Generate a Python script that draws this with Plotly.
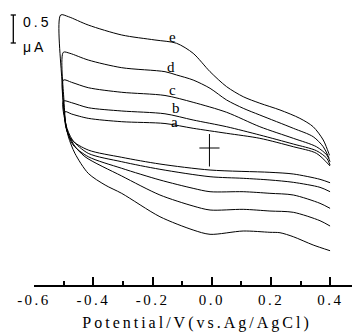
import plotly.graph_objects as go

# ---- data (potential in V vs Ag/AgCl, current in uA) ----
pot_a = [0.399, 0.365, 0.275, 0.196, -0.006, -0.175, -0.304, -0.417, -0.473, -0.492,
         -0.495, -0.473, -0.417, -0.304, -0.158, -0.063, 0.050, 0.162, 0.275, 0.353, 0.399]
cur_a = [-0.620, -0.559, -0.464, -0.434, -0.393, -0.286, -0.166, -0.036, 0.143, 0.357,
         0.648, 0.607, 0.530, 0.470, 0.4375, 0.352, 0.2625, 0.173, 0.023, -0.095, -0.321]

pot_b = [0.399, 0.365, 0.275, 0.196, 0.106, -0.006, -0.175, -0.304, -0.417, -0.470, -0.492,
         -0.501, -0.473, -0.417, -0.304, -0.158, -0.063, 0.050, 0.162, 0.275, 0.353, 0.388, 0.399]
cur_b = [-0.780, -0.702, -0.6125, -0.571, -0.541, -0.5125, -0.380, -0.245, -0.095, 0.143, 0.41,
         0.839, 0.809, 0.720, 0.661, 0.611, 0.500, 0.380, 0.232, 0.071, -0.048, -0.184, -0.304]

pot_c = [0.399, 0.365, 0.275, 0.196, 0.106, -0.006, -0.063, -0.175, -0.304, -0.417, -0.468, -0.489, -0.499,
         -0.501, -0.473, -0.417, -0.304, -0.158, -0.063, 0.050, 0.162, 0.275, 0.353, 0.388, 0.399]
cur_c = [-1.077, -0.9875, -0.839, -0.809, -0.780, -0.780, -0.720, -0.571, -0.3625, -0.155, 0.054, 0.32, 0.68,
         1.214, 1.173, 1.077, 0.995, 0.938, 0.816, 0.6375, 0.380, 0.173, 0.023, -0.125, -0.245]

pot_d = [0.399, 0.365, 0.275, 0.196, 0.106, -0.006, -0.063, -0.175, -0.304, -0.428, -0.465, -0.489, -0.499,
         -0.501, -0.479, -0.417, -0.304, -0.158, -0.119, -0.063, -0.006, 0.050, 0.106, 0.162, 0.275, 0.342,
         0.376, 0.396]
cur_d = [-1.393, -1.298, -1.148, -1.125, -1.095, -1.107, -1.036, -0.839, -0.500, -0.155, 0.054, 0.32, 0.857,
         1.709, 1.691, 1.571, 1.434, 1.363, 1.304, 1.214, 1.066, 0.857, 0.709, 0.589, 0.352, 0.202,
         0.023, -0.184]

pot_e = [0.399, 0.342, 0.275, 0.230, 0.196, 0.106, -0.006, -0.063, -0.175, -0.304, -0.360, -0.417, -0.462,
         -0.484, -0.495, -0.506,
         -0.510, -0.484, -0.417, -0.304, -0.192, -0.119, -0.063, -0.006, 0.050, 0.106, 0.162, 0.230, 0.297,
         0.342, 0.376, 0.393, 0.397]
cur_e = [-1.834, -1.732, -1.584, -1.5125, -1.505, -1.482, -1.541, -1.464, -1.227, -0.810, -0.661, -0.452, -0.095,
         0.202, 0.500, 1.214,
         2.375, 2.345, 2.196, 2.018, 1.929, 1.870, 1.691, 1.363, 1.095, 0.916, 0.800, 0.679, 0.530,
         0.380, 0.143, -0.071, -0.130]

curve_names = ["a", "b", "c", "d", "e"]
label_pot = [-0.126, -0.121, -0.131, -0.139, -0.134]
label_cur = [0.46, 0.71, 1.036, 1.446, 1.982]

tick_vals = [-0.6, -0.4, -0.2, 0.0, 0.2, 0.4]
tick_text = ["-0.6", "-0.4", "-0.2", "0.0", "0.2", "0.4"]
minor_vals = [-0.5, -0.3, -0.1, 0.1, 0.3, 0.5]

origin = [-0.008, 0.0]          # reference cross (V, uA)
scale_bar = [1.875, 2.375]      # 0.5 uA scale bar (uA)

pots = [pot_a, pot_b, pot_c, pot_d, pot_e]
curs = [cur_a, cur_b, cur_c, cur_d, cur_e]

fig = go.Figure()
for name, p, c in zip(curve_names, pots, curs):
    fig.add_trace(go.Scatter(x=p, y=c, mode="lines", name=name,
                             line=dict(color="black", width=1, shape="spline", smoothing=0.8),
                             showlegend=False, hoverinfo="skip"))

SERIF = "Liberation Serif"
SANS = "Liberation Sans"


def spaced(text, px, family):
    return '<span style="font-family:%s;letter-spacing:%spx">%s</span>' % (family, px, text)


for name, x, y in zip(curve_names, label_pot, label_cur):
    fig.add_annotation(x=x, y=y, text=name, showarrow=False, xanchor="center", yanchor="middle",
                       font=dict(family=SERIF, size=15, color="black"))

# origin cross
fig.add_shape(type="line", x0=origin[0] - 0.034, x1=origin[0] + 0.034, y0=origin[1], y1=origin[1],
              line=dict(color="black", width=1))
fig.add_shape(type="line", x0=origin[0], x1=origin[0], y0=origin[1] + 0.25, y1=origin[1] - 0.33,
              line=dict(color="black", width=1))

# scale bar (figure is offset by the page's 8px body margin)
bar_x = (13.3 - 34) / 326
fig.add_shape(type="line", xref="paper", yref="y", x0=bar_x, x1=bar_x, y0=scale_bar[0], y1=scale_bar[1],
              line=dict(color="black", width=1.3))
for yy in scale_bar:
    fig.add_shape(type="line", xref="paper", yref="y", x0=bar_x - 0.008, x1=bar_x + 0.008, y0=yy, y1=yy,
                  line=dict(color="black", width=1.3))
txt_x = (21.0 - 34) / 326
fig.add_annotation(xref="paper", yref="y", x=txt_x, y=2.256, text=spaced("0.5", 3, SANS),
                   showarrow=False, xanchor="left", yanchor="middle",
                   font=dict(family=SANS, size=14, color="black"))
fig.add_annotation(xref="paper", yref="y", x=txt_x, y=1.80, text=spaced("μA", 3, SANS),
                   showarrow=False, xanchor="left", yanchor="middle",
                   font=dict(family=SANS, size=14, color="black"))

fig.update_layout(
    width=352, height=326,
    margin=dict(l=26, r=0, t=0, b=49),
    plot_bgcolor="white", paper_bgcolor="white",
    xaxis=dict(range=[-0.6, 0.5], showgrid=False, zeroline=False,
               showline=True, linecolor="black", linewidth=1.6,
               ticks="inside", ticklen=8, tickwidth=1.5, tickcolor="black",
               tickvals=tick_vals,
               ticktext=[spaced(t, 2.5, SERIF) for t in tick_text],
               tickfont=dict(family=SERIF, size=15, color="black"),
               minor=dict(tickvals=minor_vals, ticks="inside", ticklen=4, tickwidth=1.5, tickcolor="black"),
               title=dict(text=spaced("Potential/V(vs.Ag/AgCl)", 3, SERIF),
                          font=dict(family=SERIF, size=16, color="black"), standoff=10)),
    yaxis=dict(range=[-2.446, 2.5], visible=False),
)

fig.write_html("out.html")
